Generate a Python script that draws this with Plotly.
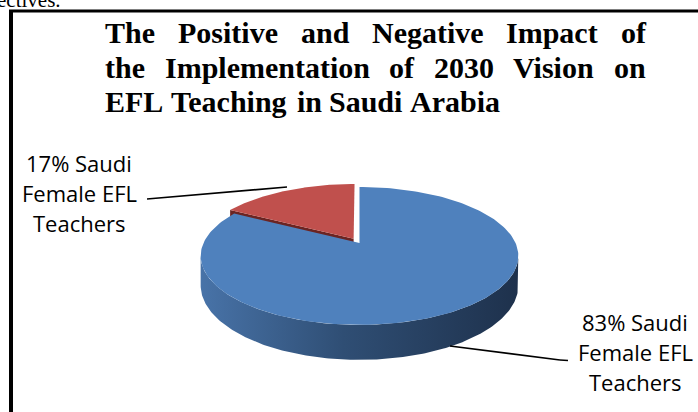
import numpy as np
import plotly.graph_objects as go

# ---------------- data ----------------
categories = ["Positive impact", "Negative impact"]
values = [83, 17]
label_lines = [["83% Saudi", "Female EFL", "Teachers"],
               ["17% Saudi", "Female EFL", "Teachers"]]
title_lines = ["The Positive and Negative Impact of",
               "the Implementation of 2030 Vision on",
               "EFL Teaching in Saudi Arabia"]
above_text = "ectives."

# ---------------- style ----------------
W, H = 698, 412
top_colors = ["#4F81BD", "#C0504D"]
cut_colors = ["#2A4466", "#6B2422"]
side_scales = [[[0, "#4873A8"], [0.45, "#2F4E74"], [1, "#1E314C"]],
               [[0, "#8A3432"], [1, "#5A1C1B"]]]
explode = [0.0, 0.075]

# projected (perspective) pie geometry, in pixel units
CX, CY, S, SH, K, D = 359.5, 243.0, 156.0, 66.5, 0.188, 28.4


def proj(u, v, z=0.0):
    den = 1.0 + K * v
    return CX + S * u / den, CY - SH * v / den + z * D / den


fig = go.Figure()

fracs = np.array(values, dtype=float) / np.sum(values)
starts = 90.0 - 360.0 * np.concatenate([[0.0], np.cumsum(fracs)[:-1]])
ends = starts - 360.0 * fracs

vis_lo = 180.0 + np.degrees(np.arcsin(K))
vis_hi = 360.0 - np.degrees(np.arcsin(K))

sides, cuts, tops = [], [], []
for i in range(len(values)):
    a0, a1 = starts[i], ends[i]           # clockwise: a0 > a1
    mid = np.radians((a0 + a1) / 2.0)
    ou, ov = explode[i] * np.cos(mid), explode[i] * np.sin(mid)

    # top face
    t = np.radians(np.linspace(a0, a1, 200))
    pu = np.concatenate([[ou], ou + np.cos(t), [ou]])
    pv = np.concatenate([[ov], ov + np.sin(t), [ov]])
    xs, ys = proj(pu, pv)
    tops.append((xs, ys, i))

    # outer (front) side wall
    for shift in (-720, -360, 0, 360):
        lo = max(a1, vis_lo + shift)
        hi = min(a0, vis_hi + shift)
        if hi > lo:
            tt = np.radians(np.linspace(lo, hi, 200))
            u = ou + np.cos(tt)
            v = ov + np.sin(tt)
            xt, yt = proj(u, v, 0.0)
            xb, yb = proj(u[::-1], v[::-1], 1.0)
            sides.append((np.concatenate([xt, xb, [xt[0]]]),
                          np.concatenate([yt, yb, [yt[0]]]), i))

    # radial cut faces that face the viewer
    for ang, sgn in ((a0, 1.0), (a1, -1.0)):
        nrm = np.radians(ang + sgn * 90.0)
        if np.sin(nrm) < -0.05:
            r = np.radians(ang)
            cu, cv = ou + np.cos(r), ov + np.sin(r)
            x1, y1 = proj(ou, ov, 0.0)
            x2, y2 = proj(cu, cv, 0.0)
            x3, y3 = proj(cu, cv, 1.0)
            x4, y4 = proj(ou, ov, 1.0)
            cuts.append(([x1, x2, x3, x4, x1], [y1, y2, y3, y4, y1], i))

for xs, ys, i in sides:
    fig.add_trace(go.Scatter(
        x=xs, y=ys, mode="lines", fill="toself", line=dict(width=0),
        fillcolor=top_colors[i],
        fillgradient=dict(type="horizontal", colorscale=side_scales[i]),
        hoverinfo="skip", showlegend=False))
for xs, ys, i in cuts:
    fig.add_trace(go.Scatter(
        x=xs, y=ys, mode="lines", fill="toself", line=dict(width=0),
        fillcolor=cut_colors[i], hoverinfo="skip", showlegend=False))
for xs, ys, i in sorted(tops, key=lambda r: -r[2]):
    fig.add_trace(go.Scatter(
        x=xs, y=ys, mode="lines", fill="toself", line=dict(width=0),
        fillcolor=top_colors[i], name=categories[i],
        hoverinfo="skip", showlegend=False))

# ---------------- leader lines + frame ----------------
shapes = [
    dict(type="line", x0=147, y0=199, x1=287, y1=187,
         line=dict(color="#000000", width=1.6)),
    dict(type="line", x0=450, y0=346, x1=560, y1=360,
         line=dict(color="#000000", width=1.6)),
    dict(type="line", x0=560, y0=360, x1=568, y1=360.5,
         line=dict(color="#000000", width=1.6)),
    dict(type="line", x0=11, y0=10, x1=11, y1=H + 2,
         line=dict(color="#000000", width=4)),
    dict(type="line", x0=9, y0=11, x1=W + 2, y1=11,
         line=dict(color="#000000", width=3)),
]

annotations = []
label_font = dict(family="Open Sans, Noto Sans, sans-serif", size=22, color="#000000")
label_pos = [(79, [163, 193, 223]), (635, [322, 352, 382])]
label_pos = [label_pos[1], label_pos[0]]
for i, lines in enumerate(label_lines):
    cx, ys = label_pos[i]
    for txt, yy in zip(lines, ys):
        annotations.append(dict(x=cx, y=yy, xref="x", yref="y", text=txt,
                                showarrow=False, xanchor="center", yanchor="middle",
                                borderpad=0, borderwidth=0, font=label_font))

# title: Times-Bold advance widths (1/1000 em) used to justify lines 1-2
TB = {"T": 667, "h": 556, "e": 444, "P": 611, "o": 500, "s": 389, "i": 278,
      "t": 333, "v": 500, "a": 500, "n": 556, "d": 556, "N": 722, "g": 500,
      "I": 389, "m": 833, "p": 556, "c": 444, "f": 333, "l": 278, "2": 500,
      "0": 500, "3": 500, "V": 722, "E": 667, "F": 611, "L": 667, "S": 556,
      "u": 556, "A": 722, "r": 444, "b": 556, " ": 250}
TFS = 30
title_font = dict(family="Liberation Serif, Times New Roman, serif", size=TFS,
                  color="#000000")
T_LEFT, T_RIGHT = 105, 646
justified = [True, True, False]
title_y = [32, 67, 101]


def wwidth(w):
    return sum(TB.get(ch, 500) for ch in w) * TFS / 1000.0


for li, line in enumerate(title_lines):
    words = line.split(" ")
    widths = [wwidth(w) for w in words]
    if justified[li]:
        gap = (T_RIGHT - T_LEFT - sum(widths)) / (len(words) - 1)
    else:
        gap = wwidth(" ")
    x = T_LEFT
    for wtxt, ww in zip(words, widths):
        annotations.append(dict(x=x, y=title_y[li], xref="x", yref="y",
                                text="<b>%s</b>" % wtxt, showarrow=False,
                                xanchor="left", yanchor="middle",
                                borderpad=0, borderwidth=0, font=title_font))
        x += ww + gap

annotations.append(dict(x=-3.0 / W, y=1.0, xref="paper", yref="paper",
                        text=above_text, showarrow=False,
                        xanchor="left", yanchor="middle",
                        borderpad=0, borderwidth=0,
                        font=dict(family="Liberation Serif, serif", size=21,
                                  color="#000000")))

fig.update_layout(
    width=W, height=H,
    margin=dict(l=0, r=0, t=0, b=0),
    paper_bgcolor="#FFFFFF", plot_bgcolor="#FFFFFF",
    xaxis=dict(range=[0, W], visible=False, fixedrange=True),
    yaxis=dict(range=[H, 0], visible=False, fixedrange=True),
    shapes=shapes, annotations=annotations, showlegend=False,
)

fig.write_html("out.html",
               config={"displayModeBar": False, "staticPlot": True},
               post_script="document.body.style.margin='0';"
                           "document.body.style.overflow='hidden';")
